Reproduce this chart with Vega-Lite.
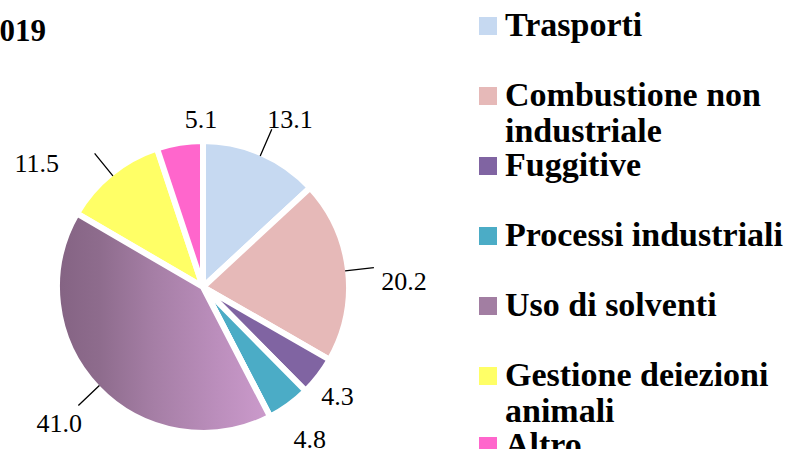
{
  "$schema": "https://vega.github.io/schema/vega-lite/v6.json",
  "autosize": {"type": "none"},
  "padding": {"left": 0, "top": 125, "right": 382, "bottom": 0},
  "width": 406,
  "height": 324,
  "background": "white",
  "title": {"text": "2019", "anchor": "start", "frame": "group", "font": "Liberation Serif", "fontSize": 31, "fontWeight": "bold", "color": "black", "dx": -16, "offset": 0, "dy": 63, "baseline": "alphabetic"},
  "data": {"values": [
    {"category": "Trasporti", "value": 13.1},
    {"category": "Combustione non industriale", "value": 20.2},
    {"category": "Fuggitive", "value": 4.3},
    {"category": "Processi industriali", "value": 4.8},
    {"category": "Uso di solventi", "value": 41.0},
    {"category": "Gestione deiezioni animali", "value": 11.5},
    {"category": "Altro", "value": 5.1}
  ]},
  "transform": [{"stack": "value", "groupby": [], "as": ["s0", "s1"]}],
  "config": {"view": {"stroke": null}, "text": {"font": "Liberation Serif"}},
  "layer": [
    {
      "mark": {"type": "arc", "outerRadius": 146, "stroke": "white", "strokeWidth": 6},
      "encoding": {
        "theta": {"field": "s0", "type": "quantitative", "scale": {"domain": [0, 100]}},
        "theta2": {"field": "s1"},
        "color": {
          "field": "category", "type": "nominal",
          "scale": {
            "domain": ["Trasporti", "Combustione non industriale", "Fuggitive", "Processi industriali", "Uso di solventi", "Gestione deiezioni animali", "Altro"],
            "range": ["#c6d9f1", "#e6b9b8", "#8064a2", "#4bacc6", "#a27ea2", "#ffff66", "#ff66cc"]
          },
          "legend": {
            "title": null, "orient": "none", "legendX": 471, "legendY": -116,
            "symbolType": "square", "symbolSize": 324, "symbolStrokeWidth": 0, "symbolOpacity": 1,
            "labelFont": "Liberation Serif", "labelFontSize": 34, "labelFontWeight": "bold", "labelColor": "black",
            "labelOffset": 0, "labelLimit": 400, "rowPadding": -2.2,
            "labelExpr": "datum.label == 'Combustione non industriale' ? ['Combustione non', 'industriale'] : datum.label == 'Gestione deiezioni animali' ? ['Gestione deiezioni', 'animali'] : [datum.label, ' ']",
            "encode": {
              "labels": {"enter": {"lineHeight": {"value": 38}}, "update": {"lineHeight": {"value": 38}}},
              "symbols": {"update": {"fill": [
                {"test": "datum.value === 'Uso di solventi'", "value": {"gradient": "linear", "x1": 0, "y1": 0, "x2": 1, "y2": 1, "stops": [{"offset": 0, "color": "#7f607c"}, {"offset": 0.5, "color": "#a47ea4"}, {"offset": 1, "color": "#c89ac8"}]}},
                {"scale": "color", "field": "value"}
              ]}}
            }
          }
        }
      }
    },
    {
      "transform": [{"filter": "datum.category == 'Uso di solventi'"}],
      "mark": {"type": "arc", "outerRadius": 146, "stroke": "white", "strokeWidth": 6,
        "color": {"gradient": "linear", "x1": 0, "y1": 0.5, "x2": 1, "y2": 0.5, "stops": [
          {"offset": 0, "color": "#846383"},
          {"offset": 0.2, "color": "#8e6c8d"},
          {"offset": 0.45, "color": "#a57ea5"},
          {"offset": 0.75, "color": "#bb8ebc"},
          {"offset": 1, "color": "#cc9bcc"}
        ]}},
      "encoding": {
        "theta": {"field": "s0", "type": "quantitative"},
        "theta2": {"field": "s1"}
      }
    },
    {
      "transform": [
        {"fold": ["s0", "s1"], "as": ["edge", "pos"]},
        {"aggregate": [{"op": "mean", "field": "pos", "as": "mid"}], "groupby": ["category", "value"]}
      ],
      "layer": [
        {
          "transform": [{"filter": "datum.category == 'Trasporti' || datum.category == 'Combustione non industriale' || datum.category == 'Uso di solventi' || datum.category == 'Gestione deiezioni animali'"}],
          "mark": {"type": "arc", "radius": 143, "radius2": 172, "fill": null, "stroke": "black", "strokeWidth": 1.3},
          "encoding": {"theta": {"field": "mid", "type": "quantitative"}, "theta2": {"field": "mid"}}
        },
        {
          "transform": [{"filter": "datum.category == 'Trasporti'"}],
          "mark": {"type": "text", "radius": 175, "dx": 17, "dy": -7, "font": "Liberation Serif", "fontSize": 26, "fontWeight": "normal", "color": "black"},
          "encoding": {"theta": {"field": "mid", "type": "quantitative"}, "text": {"field": "value", "type": "quantitative", "format": ".1f"}}
        },
        {
          "transform": [{"filter": "datum.category == 'Combustione non industriale'"}],
          "mark": {"type": "text", "radius": 175, "dx": 27, "dy": 15, "font": "Liberation Serif", "fontSize": 26, "fontWeight": "normal", "color": "black"},
          "encoding": {"theta": {"field": "mid", "type": "quantitative"}, "text": {"field": "value", "type": "quantitative", "format": ".1f"}}
        },
        {
          "transform": [{"filter": "datum.category == 'Fuggitive'"}],
          "mark": {"type": "text", "radius": 175, "dx": -4, "dy": 3, "font": "Liberation Serif", "fontSize": 26, "fontWeight": "normal", "color": "black"},
          "encoding": {"theta": {"field": "mid", "type": "quantitative"}, "text": {"field": "value", "type": "quantitative", "format": ".1f"}}
        },
        {
          "transform": [{"filter": "datum.category == 'Processi industriali'"}],
          "mark": {"type": "text", "radius": 175, "dx": 4, "dy": 11, "font": "Liberation Serif", "fontSize": 26, "fontWeight": "normal", "color": "black"},
          "encoding": {"theta": {"field": "mid", "type": "quantitative"}, "text": {"field": "value", "type": "quantitative", "format": ".1f"}}
        },
        {
          "transform": [{"filter": "datum.category == 'Uso di solventi'"}],
          "mark": {"type": "text", "radius": 175, "dx": -17, "dy": 16, "font": "Liberation Serif", "fontSize": 26, "fontWeight": "normal", "color": "black"},
          "encoding": {"theta": {"field": "mid", "type": "quantitative"}, "text": {"field": "value", "type": "quantitative", "format": ".1f"}}
        },
        {
          "transform": [{"filter": "datum.category == 'Gestione deiezioni animali'"}],
          "mark": {"type": "text", "radius": 175, "dx": -56, "dy": 13, "font": "Liberation Serif", "fontSize": 26, "fontWeight": "normal", "color": "black"},
          "encoding": {"theta": {"field": "mid", "type": "quantitative"}, "text": {"field": "value", "type": "quantitative", "format": ".1f"}}
        },
        {
          "transform": [{"filter": "datum.category == 'Altro'"}],
          "mark": {"type": "text", "radius": 175, "dx": 26, "dy": 6, "font": "Liberation Serif", "fontSize": 26, "fontWeight": "normal", "color": "black"},
          "encoding": {"theta": {"field": "mid", "type": "quantitative"}, "text": {"field": "value", "type": "quantitative", "format": ".1f"}}
        }
      ]
    }
  ]
}
